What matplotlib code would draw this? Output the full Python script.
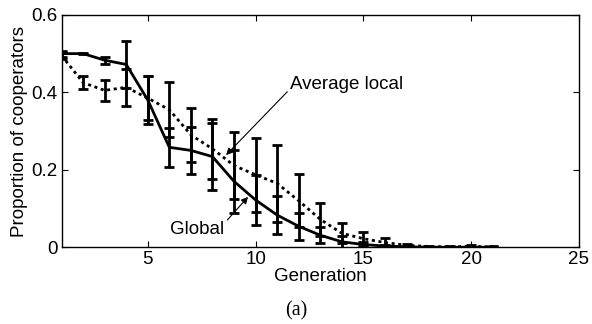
import matplotlib
matplotlib.use("Agg")
import matplotlib.pyplot as plt
import numpy as np

generation = [1, 2, 3, 4, 5, 6, 7, 8, 9, 10, 11, 12, 13, 14, 15, 16, 17, 18, 19, 20, 21]
global_mean = [0.500, 0.500, 0.483, 0.472, 0.380, 0.258, 0.250, 0.234, 0.170, 0.122, 0.083,
               0.054, 0.031, 0.014, 0.007, 0.003, 0.001, 0.000, 0.000, 0.000, 0.000]
global_err = [0.008, 0.002, 0.009, 0.061, 0.063, 0.051, 0.060, 0.087, 0.082, 0.065, 0.050,
              0.035, 0.021, 0.015, 0.007, 0.003, 0.001, 0.000, 0.000, 0.000, 0.000]
local_mean = [0.495, 0.425, 0.405, 0.413, 0.385, 0.355, 0.290, 0.254, 0.211, 0.187, 0.165,
              0.120, 0.072, 0.036, 0.022, 0.012, 0.005, 0.002, 0.001, 0.002, 0.001]
local_err = [0.008, 0.016, 0.028, 0.047, 0.057, 0.071, 0.070, 0.077, 0.087, 0.095, 0.099,
             0.068, 0.043, 0.026, 0.018, 0.011, 0.004, 0.002, 0.001, 0.004, 0.001]

xticks = [5, 10, 15, 20, 25]
yticks = [0, 0.2, 0.4, 0.6]
ytick_labels = ["0", "0.2", "0.4", "0.6"]

plt.rcParams['font.family'] = ['Liberation Sans', 'DejaVu Sans']
FS = 13.5

fig = plt.figure(figsize=(5.92, 3.24), dpi=100)
ax = fig.add_axes([0.104, 0.237, 0.874, 0.717])

ax.errorbar(generation, global_mean, yerr=global_err, color='black', linestyle='-',
            linewidth=2.0, elinewidth=2.0, capsize=3.6, capthick=2.0)
ax.errorbar(generation, local_mean, yerr=local_err, color='black', linestyle=(0, (1.1, 1.3)),
            linewidth=2.0, elinewidth=2.0, capsize=3.6, capthick=2.0)

ax.set_xlim(1, 25)
ax.set_ylim(0, 0.6)
ax.set_xticks(xticks)
ax.set_yticks(yticks)
ax.set_yticklabels(ytick_labels)
ax.tick_params(direction='in', top=True, right=True, labelsize=FS, length=4, width=0.8, pad=3)
for s in ax.spines.values():
    s.set_linewidth(1.0)

ax.set_xlabel("Generation", fontsize=FS, labelpad=0)
ax.set_ylabel("Proportion of cooperators", fontsize=FS, labelpad=2)

ax.annotate("Average local", xy=(8.63, 0.238), xytext=(11.6, 0.42),
            fontsize=FS, va='center', ha='left',
            arrowprops=dict(arrowstyle='-|>', color='black', lw=0.8,
                            shrinkA=0, shrinkB=0, mutation_scale=10,
                            relpos=(0, 0.25)))
ax.annotate("Global", xy=(9.65, 0.13), xytext=(6.05, 0.047),
            fontsize=FS, va='center', ha='left',
            arrowprops=dict(arrowstyle='-|>', color='black', lw=0.8,
                            shrinkA=0, shrinkB=0, mutation_scale=10,
                            relpos=(1.0, 0.85)))

fig.text(0.5, 0.04, "(a)", ha='center', va='center', fontsize=14.5,
         family=['Liberation Serif', 'DejaVu Serif'])

fig.savefig("out.png", dpi=100)
